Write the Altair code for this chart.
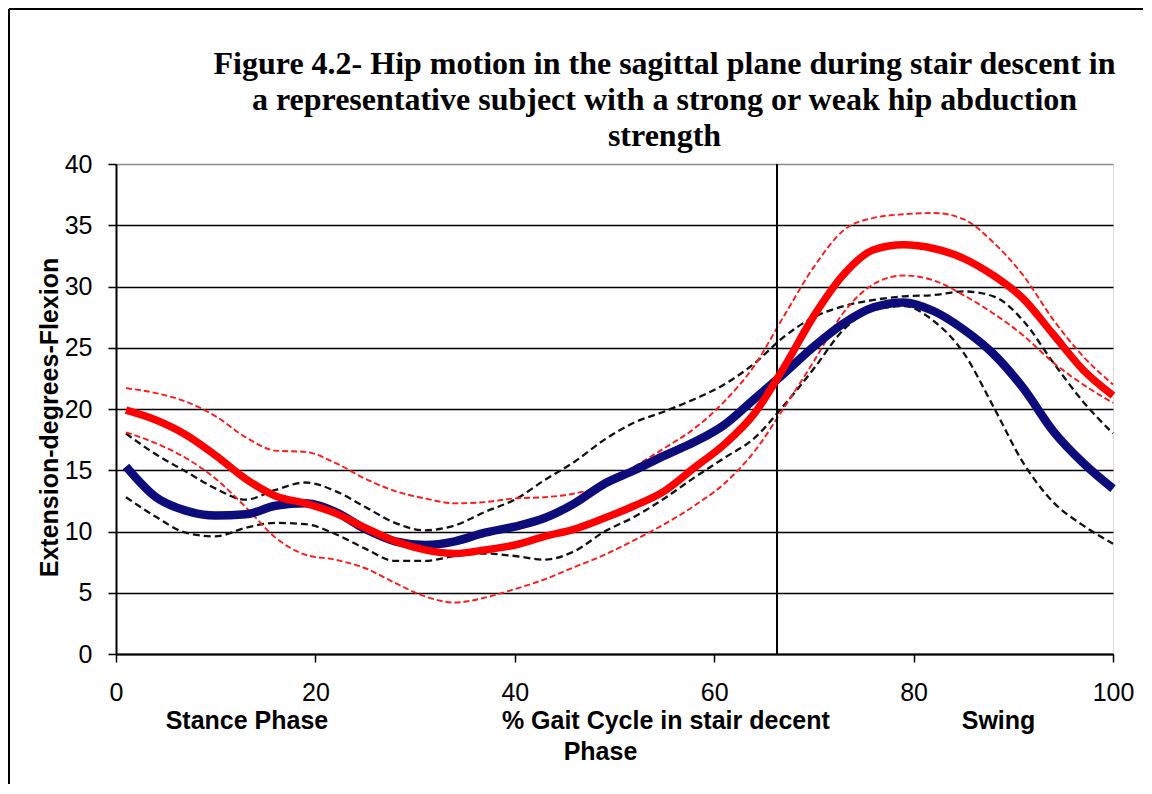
import altair as alt
import pandas as pd

# % gait cycle sample positions
gait = [1, 4, 7, 10, 13, 16, 19, 22, 25, 28, 31, 34, 37, 40, 43, 46, 49, 52, 55,
        58, 61, 64, 67, 70, 73, 76, 79, 82, 85, 88, 91, 94, 97, 100]

# strong hip abduction (mean, +SD, -SD)
strong_mean = [15.3, 12.8, 11.7, 11.3, 11.4, 12.1, 12.3, 11.6, 10.2, 9.2, 8.9, 9.2, 9.9,
               10.4, 11.1, 12.3, 13.9, 15.0, 16.2, 17.3, 18.7, 20.8, 22.9, 25.1, 27.0,
               28.3, 28.7, 28.0, 26.5, 24.5, 21.7, 18.2, 15.6, 13.5]
strong_upper = [18.0, 16.3, 14.9, 13.5, 12.6, 13.4, 14.0, 13.3, 12.0, 10.7, 10.1, 10.5,
                11.6, 12.6, 14.2, 15.7, 17.5, 18.9, 19.8, 20.8, 22.0, 23.7, 25.9, 27.5,
                28.4, 28.9, 29.2, 29.3, 29.6, 29.2, 27.2, 23.8, 20.6, 18.0]
strong_lower = [12.8, 11.2, 9.9, 9.6, 10.3, 10.7, 10.6, 9.8, 8.6, 7.6, 7.6, 8.0, 8.2,
                8.0, 7.7, 8.4, 10.0, 11.2, 12.7, 14.4, 16.0, 17.6, 20.3, 23.3, 26.5,
                28.1, 28.4, 27.2, 24.6, 20.2, 15.6, 12.4, 10.5, 9.0]

# weak hip abduction (mean, +SD, -SD)
weak_mean = [19.9, 19.1, 17.9, 16.2, 14.3, 12.9, 12.3, 11.5, 10.3, 9.2, 8.5, 8.2, 8.5,
             8.9, 9.6, 10.2, 11.1, 12.1, 13.3, 15.2, 17.1, 19.6, 23.4, 27.6, 31.0,
             33.0, 33.4, 33.1, 32.3, 30.9, 29.0, 26.1, 23.2, 21.1]
weak_upper = [21.7, 21.3, 20.6, 19.4, 17.7, 16.6, 16.5, 15.6, 14.3, 13.3, 12.7, 12.3,
              12.4, 12.7, 12.8, 13.1, 13.8, 15.3, 16.8, 18.4, 20.6, 23.5, 27.6, 31.6,
              34.6, 35.6, 35.9, 36.0, 35.5, 33.6, 30.9, 27.3, 24.3, 22.0]
weak_lower = [18.1, 17.2, 16.0, 14.3, 12.0, 9.5, 8.1, 7.7, 7.0, 5.8, 4.7, 4.2, 4.6,
              5.3, 6.1, 7.1, 8.1, 9.3, 10.6, 12.1, 13.9, 16.5, 20.1, 23.9, 27.9,
              30.2, 30.9, 30.5, 29.3, 27.8, 26.0, 23.8, 22.0, 20.5]

phase_boundary = [66.3]

y_ticks = [0, 5, 10, 15, 20, 25, 30, 35, 40]
x_ticks = [0, 20, 40, 60, 80, 100]

NB = "\u00a0"
x_title = ["Stance Phase" + NB * 25 + "% Gait Cycle in stair decent" + NB * 19 + "Swing",
           "Phase"]

x_enc = alt.X("x:Q", scale=alt.Scale(domain=[0, 100], nice=False),
              axis=alt.Axis(values=x_ticks, grid=False, title=x_title,
                            titleX=484, titleY=54, titleBaseline="top",
                            titleAlign="center", titleLineHeight=31,
                            titleFontSize=25, titleFont="Liberation Sans",
                            titleFontWeight="bold", titleColor="black",
                            labelFontSize=25, labelFont="Liberation Sans",
                            labelColor="black", labelPadding=18, tickSize=8,
                            tickColor="black", tickWidth=1.5, domainColor="black",
                            domainWidth=2, labelFlush=False))
y_enc = alt.Y("y:Q", scale=alt.Scale(domain=[0, 40], nice=False),
              axis=alt.Axis(values=y_ticks, grid=True,
                            gridColor=alt.condition("datum.value == 40",
                                                    alt.value("#8c8c8c"),
                                                    alt.value("#000000")),
                            gridWidth=1.4,
                            title="Extension-degrees-Flexion", titleAngle=270,
                            titleX=-59, titleY=253, titleBaseline="alphabetic",
                            titleAlign="center", titleFontSize=25,
                            titleFont="Liberation Sans", titleFontWeight="bold",
                            titleColor="black", labelFontSize=25,
                            labelFont="Liberation Sans", labelColor="black",
                            labelPadding=16, tickSize=8, tickColor="black",
                            tickWidth=1.5, domainColor="black", domainWidth=2,
                            labelFlush=False))


def series(vals):
    return pd.DataFrame({"x": gait, "y": vals})


def line(vals, color, width, dash=None):
    kw = dict(color=color, strokeWidth=width, interpolate="monotone")
    if dash:
        kw["strokeDash"] = dash
    return alt.Chart(series(vals)).mark_line(**kw).encode(x=x_enc, y=y_enc)


boundary = alt.Chart(pd.DataFrame({"x": phase_boundary})).mark_rule(
    color="black", strokeWidth=2).encode(x=alt.X("x:Q"))

frame_left = alt.Chart().mark_rule(color="black", strokeWidth=2).encode(
    x=alt.value(-107), y=alt.value(-155), y2=alt.value(640))
frame_top = alt.Chart().mark_rule(color="black", strokeWidth=2).encode(
    x=alt.value(-107), x2=alt.value(1030), y=alt.value(-155))

chart = alt.layer(
    line(strong_upper, "#111111", 2.3, [7, 4]),
    line(strong_lower, "#111111", 2.3, [7, 4]),
    line(weak_upper, "#ff1a1a", 1.9, [6, 3]),
    line(weak_lower, "#ff1a1a", 1.9, [6, 3]),
    boundary,
    line(strong_mean, "#0c0c7a", 8.5),
    line(weak_mean, "#ff0000", 7.5),
    frame_left,
    frame_top,
).properties(
    width=997,
    height=490,
    autosize=alt.AutoSizeParams(type="none"),
    padding={"left": 108, "top": 156, "right": 30, "bottom": 130},
    title=alt.TitleParams(
        text=["Figure 4.2- Hip motion in the sagittal plane during stair descent in",
              "a representative subject with a strong or weak hip abduction",
              "strength"],
        font="Liberation Serif", fontSize=32, fontWeight="bold", color="black",
        anchor="middle", frame="group", dx=50, dy=157, offset=12, lineHeight=36),
).configure_view(stroke="#8c8c8c", strokeWidth=2).configure(background="white")

chart.save("out.html", embed_options={"renderer": "svg", "actions": False})
